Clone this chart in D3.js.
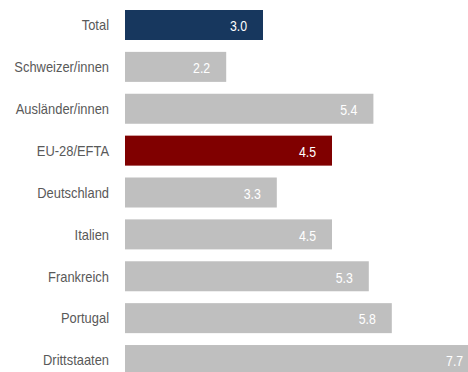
<!DOCTYPE html>
<html>
<head>
<meta charset="utf-8">
<script src="https://cdn.jsdelivr.net/npm/d3@7"></script>
<style>
  html, body { margin: 0; padding: 0; background: #ffffff; }
  svg { display: block; }
  text { font-family: "Liberation Sans", Arial, sans-serif; }
</style>
</head>
<body>
<svg id="chart" width="468" height="372"></svg>
<script>
// Categories and values (percent)
const categories = ["Total", "Schweizer/innen", "Ausländer/innen", "EU-28/EFTA",
  "Deutschland", "Italien", "Frankreich", "Portugal", "Drittstaaten"];
const values = [3.0, 2.2, 5.4, 4.5, 3.3, 4.5, 5.3, 5.8, 7.7];
const highlight = { "Total": "#17375e", "EU-28/EFTA": "#800000" };
const baseColor = "#bfbfbf";

const data = categories.map((c, i) => ({ cat: c, val: values[i] }));

const svg = d3.select("#chart");
const left = 125;

const x = d3.scaleLinear().domain([0, 8]).range([left, left + 8 * 46]);
const y = d3.scaleBand().domain(categories).range([4.06, 380.96]).paddingInner(0.2836).paddingOuter(0.1418);

// Condensed look: shrink glyph widths of a text to a fraction of natural width
function condense(sel, f) {
  sel.each(function () {
    const w = this.getComputedTextLength();
    d3.select(this).attr("textLength", w * f).attr("lengthAdjust", "spacingAndGlyphs");
  });
}

// Bars
svg.append("g").selectAll("rect").data(data).join("rect")
  .attr("x", x(0))
  .attr("y", d => y(d.cat))
  .attr("width", d => x(d.val) - x(0))
  .attr("height", y.bandwidth())
  .attr("fill", d => highlight[d.cat] || baseColor);

// Value labels inside the bar ends
svg.append("g").selectAll("text").data(data).join("text")
  .attr("x", d => x(d.val) - 16)
  .attr("y", d => y(d.cat) + y.bandwidth() / 2 + 1)
  .attr("dy", "0.35em")
  .attr("text-anchor", "end")
  .attr("fill", "#ffffff")
  .attr("font-size", 15)
  .text(d => d3.format(".1f")(d.val))
  .call(condense, 0.82);

// Category axis labels
const yAxis = d3.axisLeft(y).tickSize(0).tickPadding(0);
const g = svg.append("g").attr("transform", "translate(109,0.5)").call(yAxis);
g.select(".domain").remove();
g.selectAll("text")
  .attr("fill", "#595959")
  .attr("font-size", 15)
  .style("font-family", "\"Liberation Sans\", Arial, sans-serif")
  .call(condense, 0.86);
</script>
</body>
</html>
